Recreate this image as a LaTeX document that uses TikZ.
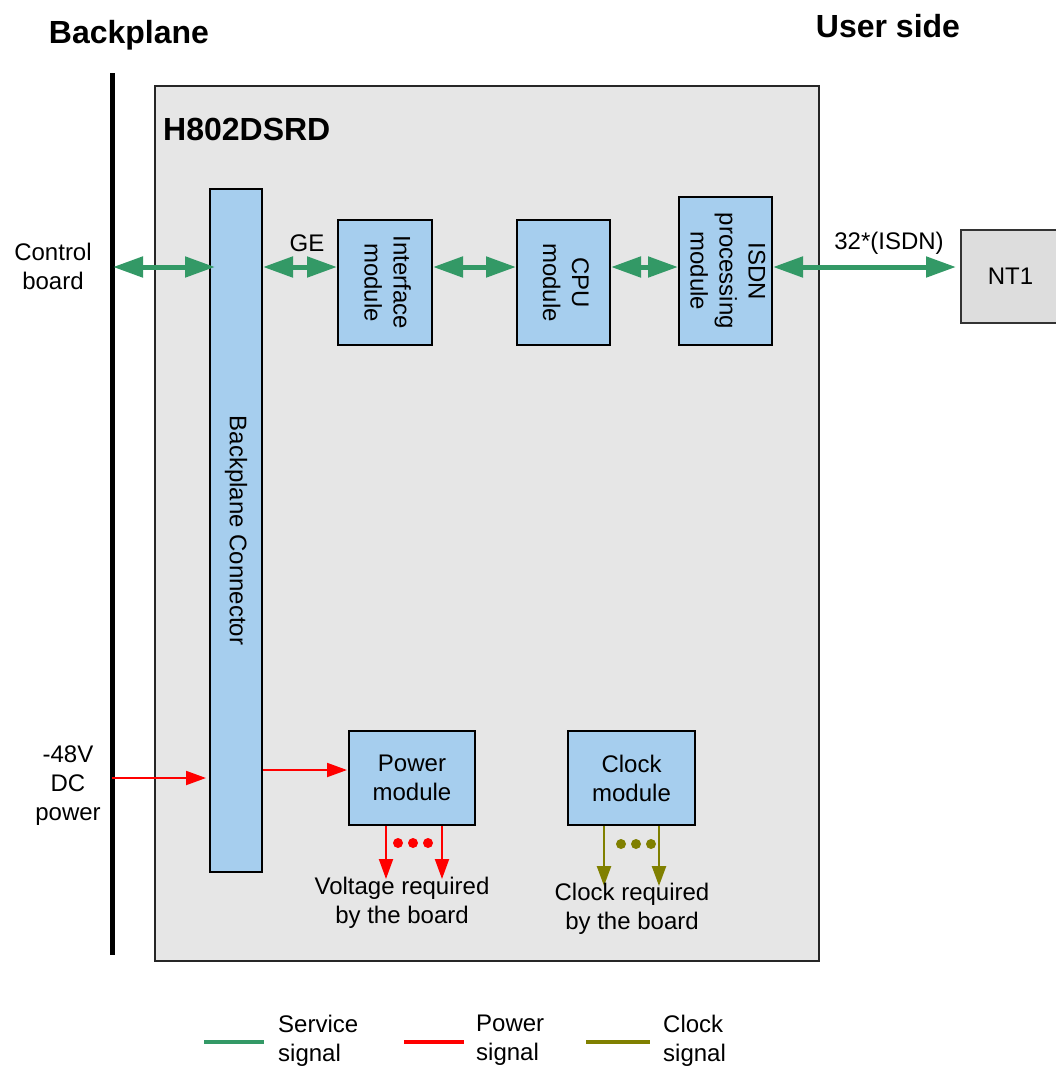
\documentclass[tikz,border=0pt]{standalone}
\usepackage{fontspec}
\setmainfont{Liberation Sans}
\usetikzlibrary{arrows.meta}
\definecolor{svcgreen}{RGB}{51,153,102}
\definecolor{pwrred}{RGB}{255,0,0}
\definecolor{clkolive}{RGB}{128,128,0}
\definecolor{modblue}{RGB}{166,206,238}
\definecolor{boardgray}{RGB}{230,230,230}
\definecolor{ntgray}{RGB}{221,221,221}
\begin{document}
\begin{tikzpicture}[x=1pt,y=-1pt,
  txt/.style={font=\fontsize{24}{29}\selectfont, align=center, inner sep=0pt},
  ttl/.style={font=\fontsize{32}{38}\selectfont\bfseries, inner sep=0pt},
  blk/.style={draw=black, line width=2pt, fill=modblue, inner sep=0pt, txt},
  svcarrow/.style={draw=svcgreen, line width=5pt, {Triangle[length=30pt,width=20pt]}-{Triangle[length=30pt,width=20pt]}},
  pwrarrow/.style={draw=pwrred, line width=2pt, -{Triangle[length=20pt,width=14pt]}},
  clkarrow/.style={draw=clkolive, line width=2.5pt, -{Triangle[length=20pt,width=14pt]}},
  pdot/.style={fill=pwrred, draw=none},
  cdot/.style={fill=clkolive, draw=none}
]
\useasboundingbox (0,0) rectangle (1056,1068);

% titles
\node[ttl] (tbp) at (129,35) {Backplane};
\node[ttl] (tus) at (888,26) {User side};

% board
\node[draw=black!85, line width=1.5pt, fill=boardgray, minimum width=664, minimum height=875, inner sep=0pt] (board) at (487,523.5) {};
\node[ttl, anchor=west] (bname) at (163,129) {H802DSRD};

% backplane bar
\coordinate (bpTop) at (112,73);
\coordinate (bpBot) at (112,955);
\draw[line width=5pt, black] (bpTop) -- (bpBot);

% modules
\node[blk, minimum width=52, minimum height=683] (conn) at (236,530.5) {\rotatebox{-90}{Backplane Connector}};
\node[blk, minimum width=94, minimum height=125] (ifm) at (385,282.5) {\rotatebox{-90}{\begin{tabular}{@{}c@{}}Interface\\module\end{tabular}}};
\node[blk, minimum width=93, minimum height=125] (cpu) at (563.5,282.5) {\rotatebox{-90}{\begin{tabular}{@{}c@{}}CPU\\module\end{tabular}}};
\node[blk, minimum width=93, minimum height=148] (isdn) at (725.5,271) {\rotatebox{-90}{\begin{tabular}{@{}c@{}}ISDN\\processing\\module\end{tabular}}};
\node[draw=black!80, line width=2pt, fill=ntgray, minimum width=99, minimum height=93, inner sep=0pt, txt] (nt1) at (1010.5,276.5) {NT1};
\node[blk, minimum width=126, minimum height=94] (pwr) at (412,778) {Power\\module};
\node[blk, minimum width=127, minimum height=94] (clk) at (631.5,778) {Clock\\module};

% side labels
\node[txt] (ctrl) at (53,266) {Control\\board};
\node[txt] (dc) at (68,786) {-48V\\DC\\power};
\node[txt] (ge) at (307,243) {GE};
\node[txt] (isdnlbl) at (889,243) {32*(ISDN)};

% service signal arrows
\coordinate (rowy) at (0,267);
\coordinate (cb) at (113,267);
\draw[svcarrow] (cb) -- ([xshift=6pt]conn.west |- rowy);
\draw[svcarrow] (conn.east |- rowy) -- (ifm.west |- rowy);
\draw[svcarrow] (ifm.east |- rowy) -- (cpu.west |- rowy);
\draw[svcarrow] (cpu.east |- rowy) -- (isdn.west |- rowy);
\draw[svcarrow] (isdn.east |- rowy) -- ([xshift=-4pt]nt1.west |- rowy);

% power arrows
\coordinate (dcin) at (112,778);
\coordinate (pwry) at (0,770);
\draw[pwrarrow] (dcin) -- ([xshift=-3pt]conn.west |- dcin);
\draw[pwrarrow] (conn.east |- pwry) -- ([xshift=-1pt]pwr.west |- pwry);
\coordinate (v1) at (386,879);
\coordinate (v2) at (442,879);
\draw[pwrarrow] (pwr.south -| v1) -- (v1);
\draw[pwrarrow] (pwr.south -| v2) -- (v2);
\fill[pdot] (398,843) circle (5pt) (413,843) circle (5pt) (428,843) circle (5pt);
\node[txt] (vreq) at (402,902.5) {Voltage required\\by the board};

% clock arrows
\coordinate (c1) at (604,886);
\coordinate (c2) at (659,886);
\draw[clkarrow] (clk.south -| c1) -- (c1);
\draw[clkarrow] (clk.south -| c2) -- (c2);
\fill[cdot] (621,844) circle (5pt) (636,844) circle (5pt) (651,844) circle (5pt);
\node[txt] (creq) at (632,908.5) {Clock required\\by the board};

% legend
\coordinate (lg1a) at (204,1042); \coordinate (lg1b) at (264,1042);
\coordinate (lg2a) at (404,1042); \coordinate (lg2b) at (464,1042);
\coordinate (lg3a) at (586,1042); \coordinate (lg3b) at (650,1042);
\draw[svcgreen, line width=4pt] (lg1a) -- (lg1b);
\draw[pwrred, line width=4pt] (lg2a) -- (lg2b);
\draw[clkolive, line width=4pt] (lg3a) -- (lg3b);
\node[txt, align=left, anchor=west] (l1) at (278,1040.5) {Service\\signal};
\node[txt, align=left, anchor=west] (l2) at (476,1040.5) {Power\\signal};
\node[txt, align=left, anchor=west] (l3) at (663,1040.5) {Clock\\signal};
\end{tikzpicture}
\end{document}
